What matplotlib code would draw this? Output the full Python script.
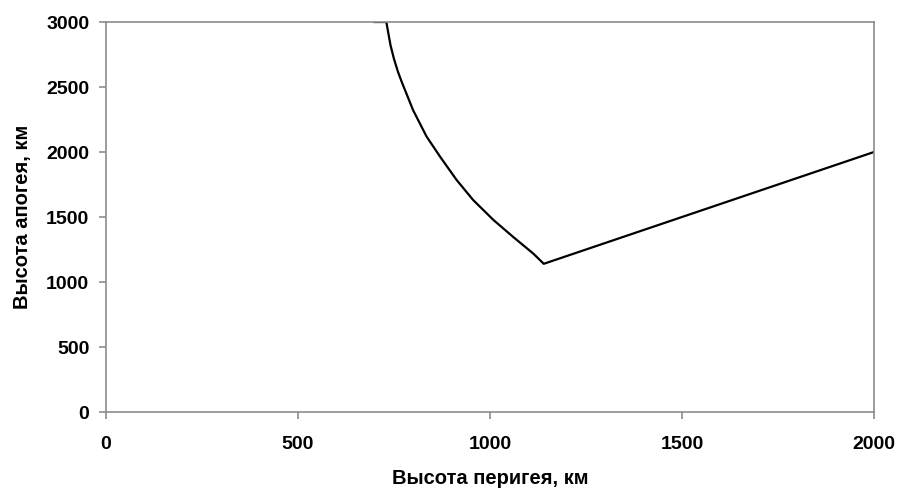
import matplotlib
matplotlib.use('Agg')
import matplotlib.pyplot as plt

# Perigee / apogee heights, km
perigee = [700, 730, 741, 750, 760, 770, 800, 835, 870, 913, 956, 1009, 1061, 1113, 1140, 2000]
apogee = [3000, 3000, 2820, 2715, 2620, 2540, 2320, 2118, 1964, 1785, 1631, 1477, 1345, 1218, 1140, 2000]

x_ticks = [0, 500, 1000, 1500, 2000]
y_ticks = [0, 500, 1000, 1500, 2000, 2500, 3000]

plt.rcParams['font.family'] = ['Liberation Sans', 'DejaVu Sans']
plt.rcParams['font.weight'] = 'bold'

fig = plt.figure(figsize=(8.97, 4.90), dpi=100)
ax = fig.add_axes([106/897, 1 - 412/490, (874 - 106)/897, (412 - 22)/490])

ax.plot(perigee, apogee, color='black', lw=1.6, solid_joinstyle='round')

ax.set_xlim(0, 2000)
ax.set_ylim(0, 3000)
ax.set_xticks(x_ticks)
ax.set_yticks(y_ticks)

for s in ax.spines.values():
    s.set_color('#8c8c8c')
    s.set_linewidth(1.2)

ax.tick_params(axis='x', direction='out', length=5, width=1.2, color='#8c8c8c',
               pad=12, labelsize=14)
ax.tick_params(axis='y', direction='out', length=5, width=1.2, color='#8c8c8c',
               pad=7, labelsize=14)
for lab in ax.get_xticklabels() + ax.get_yticklabels():
    lab.set_fontweight('bold')

ax.set_xlabel("Высота перигея, км", fontsize=14.5, fontweight='bold', labelpad=12)
ax.set_ylabel("Высота апогея, км", fontsize=14.5, fontweight='bold', labelpad=10)

fig.set_facecolor('white')
fig.savefig('out.png', dpi=100)
